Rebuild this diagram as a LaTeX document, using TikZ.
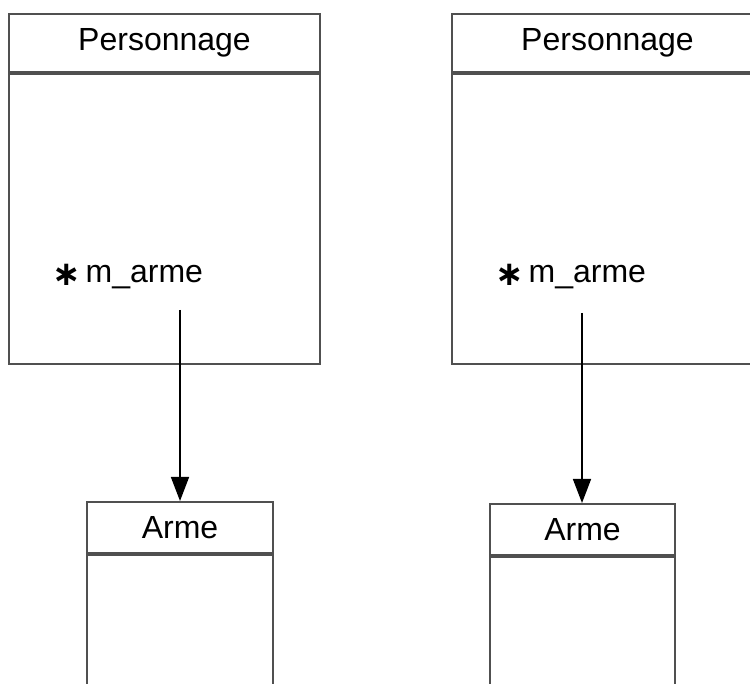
\documentclass[tikz,border=0pt]{standalone}
\usepackage{fontspec}
\setmainfont{Liberation Sans}
\newfontfamily\symfont{DejaVu Sans}
\usepackage{tikz}
\usetikzlibrary{arrows.meta,positioning}
\definecolor{boxgray}{HTML}{505050}
\tikzset{
  >={Triangle[length=24pt,width=18pt]},
  classhead/.style={draw=boxgray, line width=2pt, minimum height=58pt, inner sep=0pt, font=\fontsize{32}{38}\selectfont},
  classbody/.style={draw=boxgray, line width=2pt, inner sep=0pt},
  attr/.style={anchor=base west, inner sep=0pt, font=\fontsize{32}{38}\selectfont},
  link/.style={->, line width=1.5pt},
}
\newcommand{\multstar}{\raisebox{-3pt}{\symfont\bfseries\fontsize{34}{34}\selectfont ∗}}

\begin{document}
\begin{tikzpicture}[x=1pt, y=-1pt]
  \useasboundingbox (0,0) rectangle (750,684);
  \clip (0,0) rectangle (750,684);

  % classes Personnage
  \node[classhead, minimum width=311pt] (pers1) at (164.5,43) {Personnage};
  \node[classbody, minimum width=311pt, minimum height=290pt, below=0pt of pers1] (pers1body) {};
  \node[classhead, minimum width=311pt] (pers2) at (607.5,43) {Personnage};
  \node[classbody, minimum width=311pt, minimum height=290pt, below=0pt of pers2] (pers2body) {};

  % attributs
  \node[attr] (attr1) at (52,283) {\multstar\hspace{5pt}m\_arme};
  \node[attr] (attr2) at (495,283) {\multstar\hspace{5pt}m\_arme};

  % classes Arme
  \node[classhead, minimum width=186pt, minimum height=51pt] (arme1) at (180,527.5) {Arme};
  \node[classbody, minimum width=186pt, minimum height=200pt, below=0pt of arme1] (arme1body) {};
  \node[classhead, minimum width=185pt, minimum height=51pt] (arme2) at (582.5,529.5) {Arme};
  \node[classbody, minimum width=185pt, minimum height=200pt, below=0pt of arme2] (arme2body) {};

  % associations
  \coordinate (src1) at (180,310);
  \coordinate (src2) at (582,313);
  \draw[link] (src1) -- (arme1.north);
  \draw[link] (src2) -- (arme2.north -| src2);
\end{tikzpicture}
\end{document}
